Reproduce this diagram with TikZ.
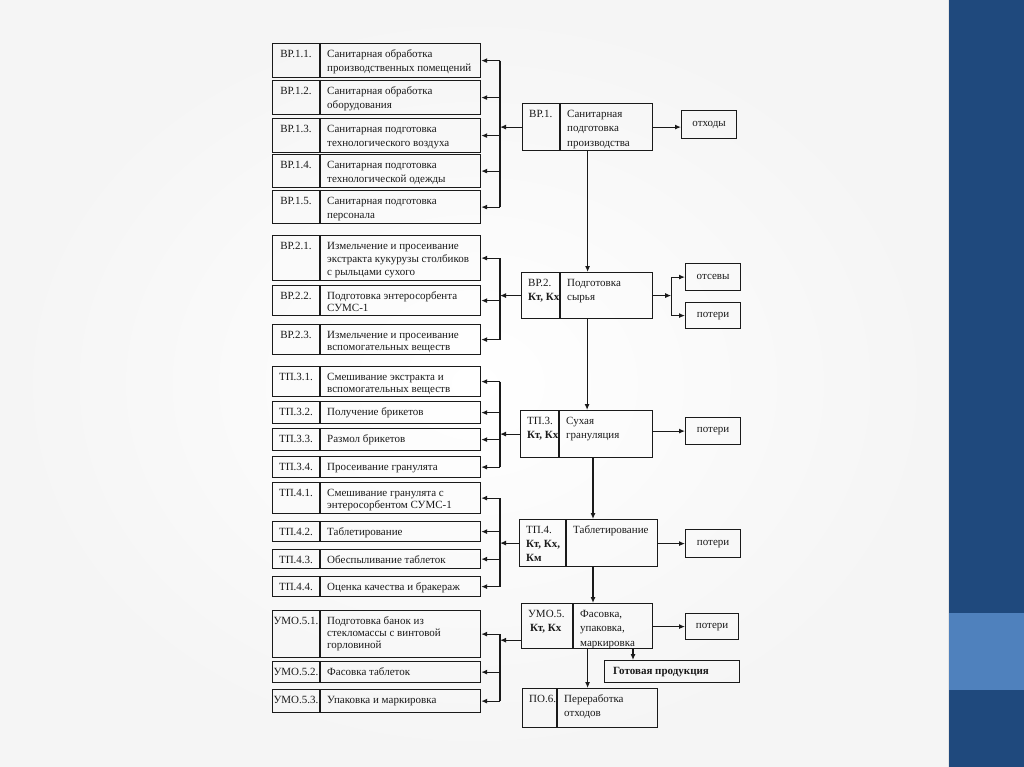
\documentclass[tikz,border=0pt]{standalone}
\usepackage{fontspec}
\setmainfont{Liberation Serif}
\usetikzlibrary{arrows.meta,calc}
\definecolor{darkband}{HTML}{1F497D}
\definecolor{lightband}{HTML}{4F81BD}
\definecolor{ink}{HTML}{1A1A1A}
\tikzset{
 box/.style={draw=ink, line width=1.2pt, inner sep=0pt, rectangle},
 div/.style={draw=ink, line width=1.2pt},
 txt/.style={inner sep=0pt, align=left, text=ink},
 arr/.style={draw=ink, line width=1.1pt, -{Latex[length=6pt,width=5pt]}},
 ln/.style={draw=ink, line width=1.1pt},
 small/.style={box, font=\fontsize{11}{14}\selectfont, text=ink},
}
% left box: name, top, bottom, label, text, line skip
\newcommand\procL[6]{%
 \node[box, anchor=north west, minimum width=208, minimum height=#3-#2] (#1) at (272,#2) {};
 \draw[div] ($(#1.north west)+(48,0)$) -- ($(#1.south west)+(48,0)$);
 \node[txt, anchor=north, font=\fontsize{11}{#6}\selectfont] (#1-l) at ($(#1.north west)+(24,5)$) {\rule{0pt}{9pt}#4};
 \node[txt, anchor=north west, font=\fontsize{11}{#6}\selectfont] (#1-t) at ($(#1.north west)+(55,5)$) {\rule{0pt}{9pt}#5};
}
% middle box: name, left, top, right, bottom, divider x, label, text
\newcommand\procM[8]{%
 \node[box, anchor=north west, minimum width=#4-#2, minimum height=#5-#3] (#1) at (#2,#3) {};
 \draw[div] ($(#1.north west)+(#6-#2,0)$) -- ($(#1.south west)+(#6-#2,0)$);
 \node[txt, anchor=north west, font=\fontsize{11}{14}\selectfont] (#1-l) at ($(#1.north west)+(7,5)$) {\rule{0pt}{9pt}#7};
 \node[txt, anchor=north west, font=\fontsize{11}{14.5}\selectfont] (#1-t) at ($(#1.north west)+(#6-#2+7,5)$) {\rule{0pt}{9pt}#8};
}
\begin{document}
\begin{tikzpicture}[x=1pt,y=-1pt]
\useasboundingbox (0,0) rectangle (1024,767);
% background
\fill[white] (0,0) rectangle (1024,767);
\shade[inner color=white, middle color=white, outer color=black!4] (0,0) rectangle (949,767);
\fill[darkband] (949,0) rectangle (1024,767);
\fill[lightband] (949,613) rectangle (1024,690);
\draw[line width=1pt, color=black!10] (948,0) -- (948,767);

% left column
\procL{BP11}{43}{77}{ВР.1.1.}{Санитарная обработка\\производственных помещений}{14}
\procL{BP12}{80}{114}{ВР.1.2.}{Санитарная обработка\\оборудования}{14}
\procL{BP13}{118}{152}{ВР.1.3.}{Санитарная подготовка\\технологического воздуха}{14}
\procL{BP14}{154}{187}{ВР.1.4.}{Санитарная подготовка\\технологической одежды}{14}
\procL{BP15}{190}{223}{ВР.1.5.}{Санитарная подготовка\\персонала}{14}
\procL{BP21}{235}{280}{ВР.2.1.}{Измельчение и просеивание\\экстракта кукурузы столбиков\\с рыльцами сухого}{13.3}
\procL{BP22}{285}{315}{ВР.2.2.}{Подготовка энтеросорбента\\СУМС-1}{12.5}
\procL{BP23}{324}{354}{ВР.2.3.}{Измельчение и просеивание\\вспомогательных веществ}{12.5}
\procL{TP31}{366}{396}{ТП.3.1.}{Смешивание экстракта и\\вспомогательных веществ}{12.5}
\procL{TP32}{401}{423}{ТП.3.2.}{Получение брикетов}{12.5}
\procL{TP33}{428}{450}{ТП.3.3.}{Размол брикетов}{12.5}
\procL{TP34}{456}{477}{ТП.3.4.}{Просеивание гранулята}{12.5}
\procL{TP41}{482}{513}{ТП.4.1.}{Смешивание гранулята с\\энтеросорбентом СУМС-1}{12.5}
\procL{TP42}{521}{541}{ТП.4.2.}{Таблетирование}{12.5}
\procL{TP43}{549}{568}{ТП.4.3.}{Обеспыливание таблеток}{12.5}
\procL{TP44}{576}{596}{ТП.4.4.}{Оценка качества и бракераж}{12.5}
\procL{UMO51}{610}{657}{УМО.5.1.}{Подготовка банок из\\стекломассы с винтовой\\горловиной}{12.2}
\procL{UMO52}{661}{682}{УМО.5.2.}{Фасовка таблеток}{12.5}
\procL{UMO53}{689}{712}{УМО.5.3.}{Упаковка и маркировка}{12.5}

% middle column
\procM{BP1}{522}{103}{652}{150}{560}{ВР.1.}{Санитарная\\подготовка\\производства}
\procM{BP2}{521}{272}{652}{318}{560}{ВР.2.\\\textbf{Кт, Кх}}{Подготовка\\сырья}
\procM{TP3}{520}{410}{652}{457}{559}{ТП.3.\\\textbf{Кт, Кх}}{Сухая\\грануляция}
\procM{TP4}{519}{519}{657}{566}{566}{ТП.4.\\\textbf{Кт, Кх,}\\\textbf{Км}}{Таблетирование}
\procM{UMO5}{521}{603}{652}{648}{573}{УМО.5.\\\,\textbf{Кт, Кх}}{Фасовка,\\упаковка,\\маркировка}
\procM{PO6}{522}{688}{657}{727}{557}{ПО.6.}{Переработка\\отходов}

% right column
\node[small, anchor=north west, minimum width=55, minimum height=28] (otx) at (681,110) {отходы};
\node[small, anchor=north west, minimum width=55, minimum height=27] (otsev) at (685,263) {отсевы};
\node[small, anchor=north west, minimum width=55, minimum height=26] (pot2) at (685,302) {потери};
\node[small, anchor=north west, minimum width=55, minimum height=27] (pot3) at (685,417) {потери};
\node[small, anchor=north west, minimum width=55, minimum height=28] (pot4) at (685,529) {потери};
\node[small, anchor=north west, minimum width=53, minimum height=26] (pot5) at (685,613) {потери};
\node[box, anchor=north west, minimum width=135, minimum height=22] (gotov) at (604,660) {};
\node[txt, anchor=west, font=\fontsize{11}{14}\selectfont\bfseries] (gotov-t) at ($(gotov.west)+(9,0)$) {Готовая продукция};

% buses on the left
\coordinate (bus) at (500,0);
\draw[ln] (BP11.east -| bus) -- (BP15.east -| bus);
\foreach \n in {BP11,BP12,BP13,BP14,BP15} \draw[arr] (\n.east -| bus) -- (\n.east);
\draw[arr] (BP1.west) -- (BP1.west -| bus);

\draw[ln] (BP21.east -| bus) -- (BP23.east -| bus);
\foreach \n in {BP21,BP22,BP23} \draw[arr] (\n.east -| bus) -- (\n.east);
\draw[arr] (BP2.west) -- (BP2.west -| bus);

\draw[ln] (TP31.east -| bus) -- (TP34.east -| bus);
\foreach \n in {TP31,TP32,TP33,TP34} \draw[arr] (\n.east -| bus) -- (\n.east);
\draw[arr] (TP3.west) -- (TP3.west -| bus);

\draw[ln] (TP41.east -| bus) -- (TP44.east -| bus);
\foreach \n in {TP41,TP42,TP43,TP44} \draw[arr] (\n.east -| bus) -- (\n.east);
\draw[arr] (TP4.west) -- (TP4.west -| bus);

\draw[ln] (UMO51.east -| bus) -- (UMO53.east -| bus);
\foreach \n in {UMO51,UMO52,UMO53} \draw[arr] (\n.east -| bus) -- (\n.east);
\coordinate (u5) at ($(UMO5.south west)+(0,-9)$);
\draw[arr] (u5) -- (u5 -| bus);

% right side outputs
\draw[arr] (BP1.east) -- (BP1.east -| otx.west);
\coordinate (j2) at ($(BP2.east)+(18,0)$);
\draw[arr] (BP2.east) -- (j2);
\draw[arr] (j2) |- (otsev.west);
\draw[arr] (j2) |- (pot2.west);
\draw[arr] (TP3.east |- pot3.west) -- (pot3.west);
\draw[arr] (TP4.east |- pot4.west) -- (pot4.west);
\draw[arr] (UMO5.east |- pot5.west) -- (pot5.west);

% main flow
\draw[arr] (BP1.south) -- (BP1.south |- BP2.north);
\draw[arr] (BP2.south) -- (BP2.south |- TP3.north);
\coordinate (c4) at (593,0);
\draw[arr] (TP3.south -| c4) -- (TP4.north -| c4);
\draw[arr] (TP4.south -| c4) -- (UMO5.north -| c4);
\coordinate (c5) at (633,0);
\draw[arr] (UMO5.south -| c5) -- (gotov.north -| c5);
\draw[arr] (UMO5.south -| BP1.south) -- (PO6.north -| BP1.south);
\end{tikzpicture}
\end{document}
